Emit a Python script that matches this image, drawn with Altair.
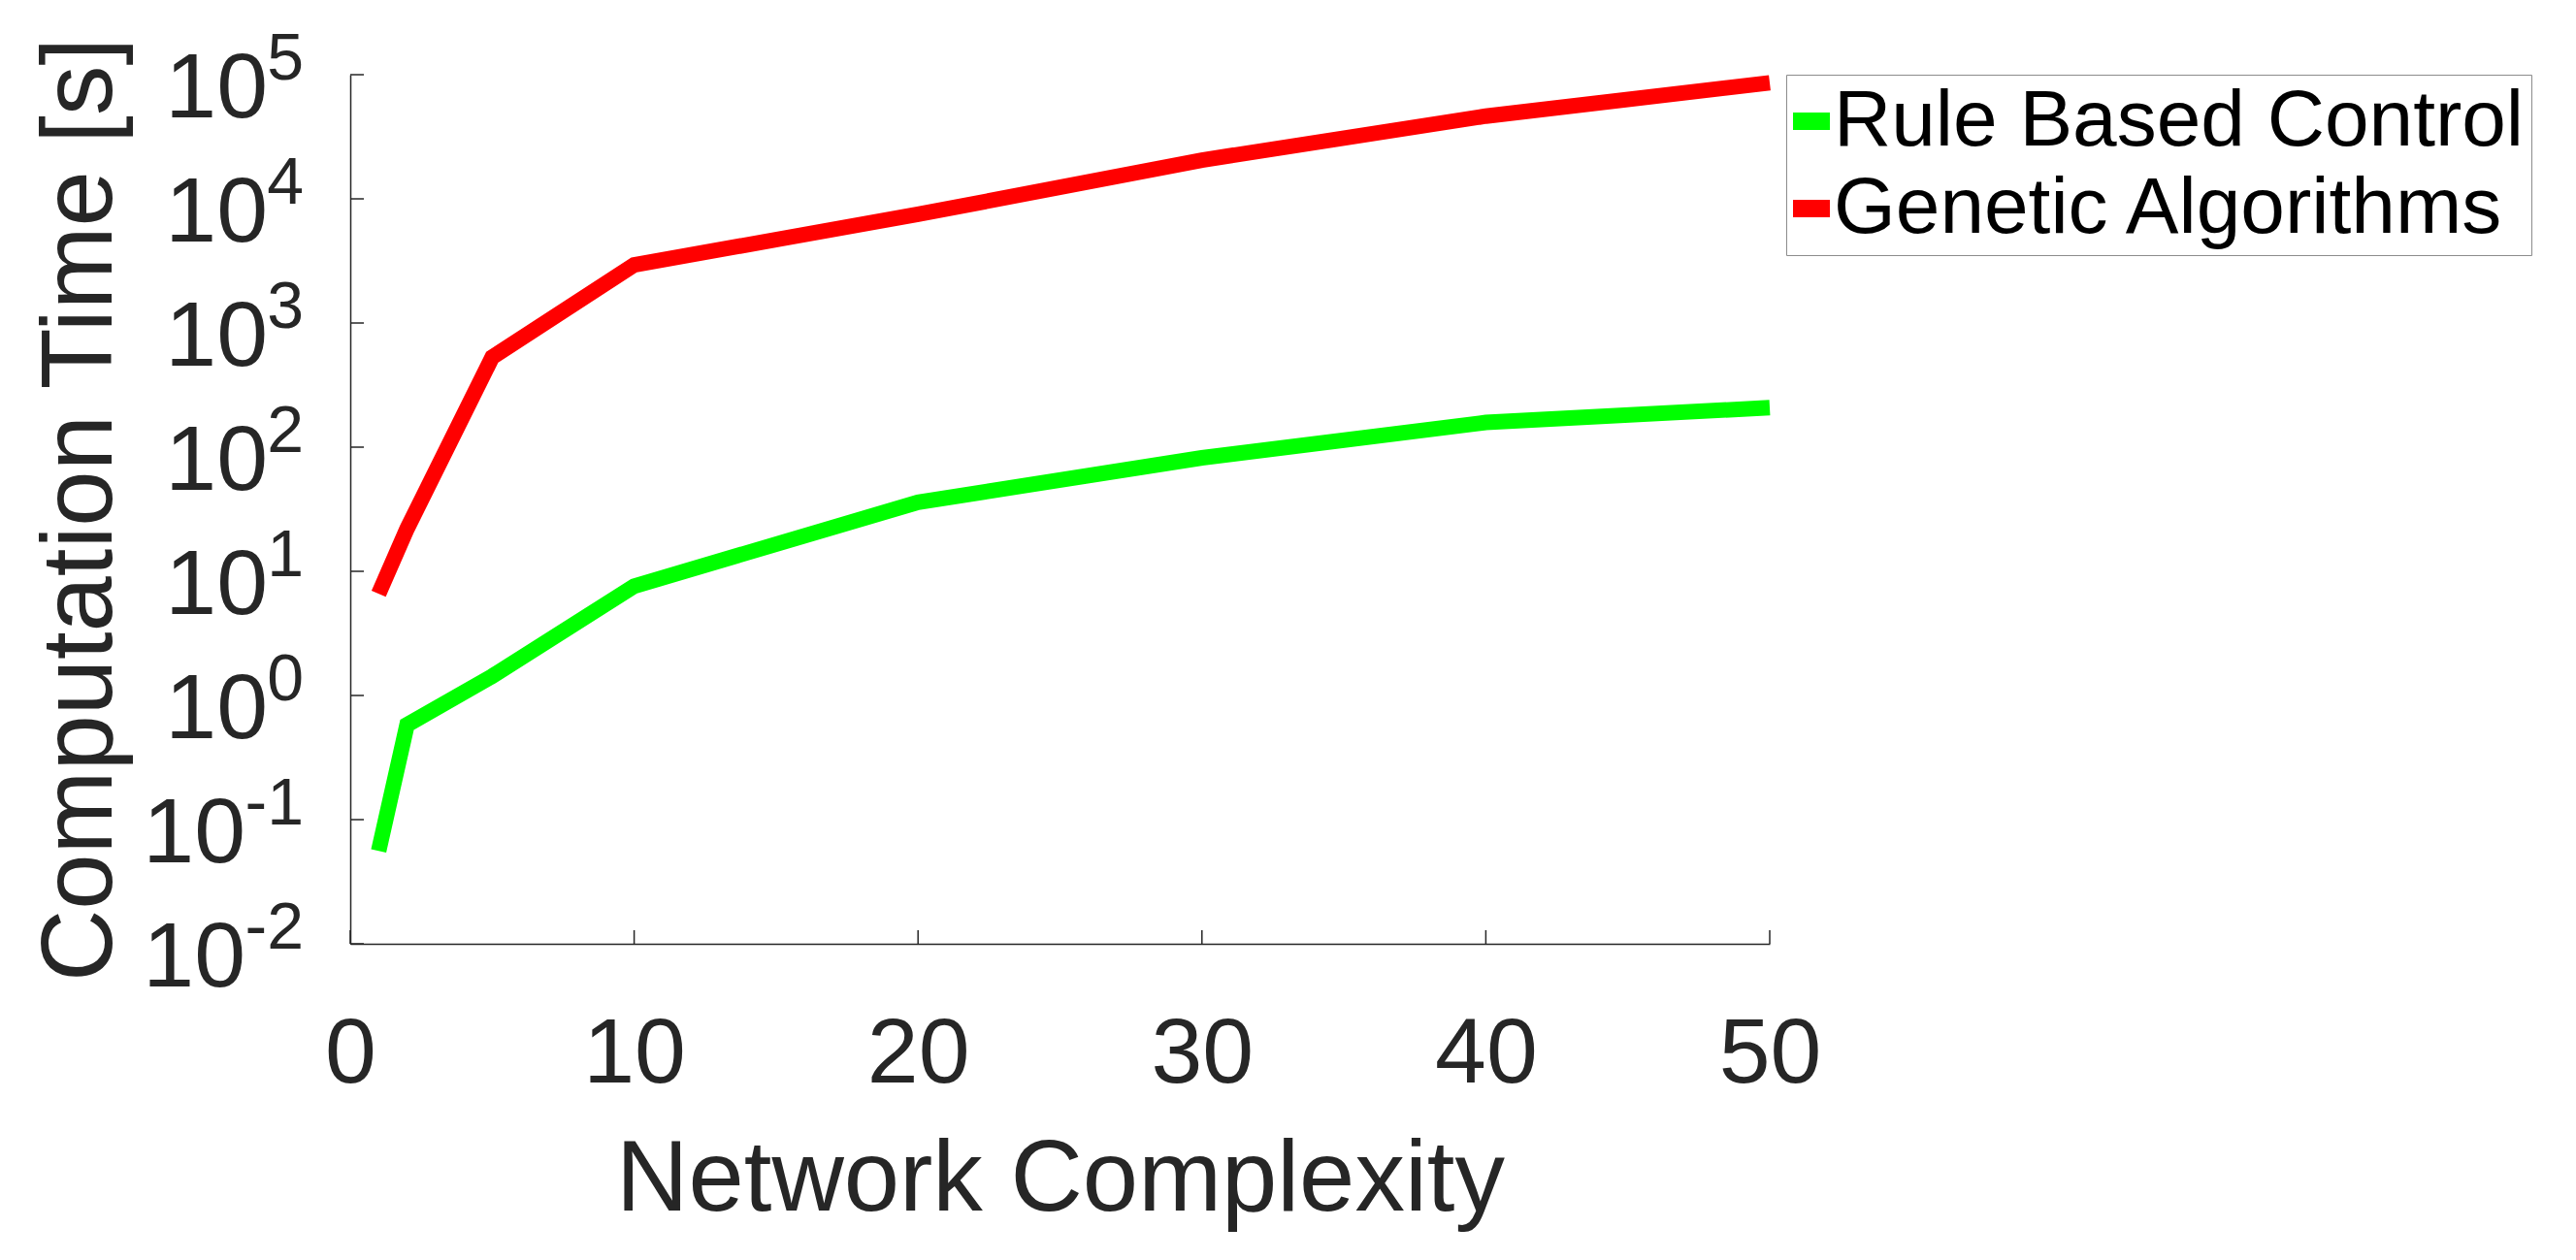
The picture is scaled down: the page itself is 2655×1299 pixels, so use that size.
import altair as alt
import pandas as pd

# ---- data ----
network_complexity = [1, 2, 5, 10, 20, 30, 40, 50]
rule_based_control = [0.056, 0.58, 1.43, 7.6, 36, 82, 158, 208]
genetic_algorithms = [6.6, 22, 530, 2940, 7500, 20500, 46400, 86000]
series_names = ["Rule Based Control", "Genetic Algorithms"]
series_colors = ["#00ff00", "#ff0000"]

x_ticks = [0, 10, 20, 30, 40, 50]
y_tick_exponents = [-2, -1, 0, 1, 2, 3, 4, 5]
y_tick_base = "10"

W, H = 1463, 896
FONT = "Liberation Sans"
AX = "#262626"

rows = []
for name, vals in zip(series_names, [rule_based_control, genetic_algorithms]):
    for xv, yv in zip(network_complexity, vals):
        rows.append({"x": xv, "y": yv, "series": name})
df = pd.DataFrame(rows)

ytick_df = pd.DataFrame({
    "exp": y_tick_exponents,
    "y": [10.0 ** k for k in y_tick_exponents],
    "base": [y_tick_base] * len(y_tick_exponents),
    "sup": [str(k) for k in y_tick_exponents],
})
xtick_df = pd.DataFrame({"x": x_ticks})

xscale = alt.Scale(domain=[0, 50], nice=False, zero=False)
yscale = alt.Scale(type="log", domain=[0.01, 100000], nice=False)

x_axis = alt.Axis(values=x_ticks, grid=False, ticks=False, tickSize=0,
                  labelFontSize=95, labelFont=FONT, labelColor=AX,
                  labelBaseline="alphabetic", labelPadding=142, labelFlush=False,
                  domainColor=AX, domainWidth=1.5,
                  title="Network Complexity", titleFontSize=103,
                  titleFont=FONT, titleColor=AX, titleFontWeight="normal",
                  titleX=W / 2, titleY=274, titleBaseline="alphabetic",
                  titleAlign="center")
y_axis = alt.Axis(grid=False, ticks=False, tickSize=0, labels=False,
                  domainColor=AX, domainWidth=1.5,
                  title="Computation Time [s]", titleFontSize=103,
                  titleFont=FONT, titleColor=AX, titleFontWeight="normal",
                  titleX=-247, titleY=H / 2, titleAngle=270,
                  titleBaseline="alphabetic", titleAlign="center")

X = alt.X("x:Q", scale=xscale, axis=x_axis)
Y = alt.Y("y:Q", scale=yscale, axis=y_axis)

lines = alt.Chart(df).mark_line(strokeWidth=16, strokeCap="butt", strokeJoin="miter").encode(
    x=X, y=Y,
    color=alt.Color("series:N", scale=alt.Scale(domain=series_names, range=series_colors),
                    sort=series_names,
                    legend=alt.Legend(title=None, orient="none", legendX=1480, legendY=0,
                                      strokeColor="#8c8c8c", fillColor="white",
                                      padding=7, symbolType="stroke", symbolSize=1444,
                                      symbolStrokeWidth=18,
                                      symbolOffset={"expr": "-22"},
                                      labelFontSize=82, labelFont=FONT, labelColor="black",
                                      labelOffset={"expr": "-18"},
                                      rowPadding=8, labelLimit=2000,
                                      symbolOpacity=1)),
)

ytick_rules = alt.Chart(ytick_df).mark_rule(color=AX, strokeWidth=1.5).encode(
    y=Y, x=alt.value(0), x2=alt.value(14),
)
xtick_rules = alt.Chart(xtick_df).mark_rule(color=AX, strokeWidth=1.5).encode(
    x=X, y=alt.value(H), y2=alt.value(H - 14),
)

label_base_pos = alt.Chart(ytick_df).transform_filter("datum.exp >= 0").mark_text(
    font=FONT, fontSize=95, color=AX, align="right", baseline="alphabetic", dy=44
).encode(y=Y, x=alt.value(-85), text="base:N")

label_base_neg = alt.Chart(ytick_df).transform_filter("datum.exp < 0").mark_text(
    font=FONT, fontSize=95, color=AX, align="right", baseline="alphabetic", dy=44
).encode(y=Y, x=alt.value(-108), text="base:N")

label_sup = alt.Chart(ytick_df).mark_text(
    font=FONT, fontSize=68, color=AX, align="right", baseline="alphabetic", dy=5
).encode(y=Y, x=alt.value(-48), text="sup:N")

chart = alt.layer(lines, ytick_rules, xtick_rules, label_base_pos, label_base_neg, label_sup).properties(
    width=W, height=H,
    background="white",
    autosize=alt.AutoSizeParams(type="none"),
    padding={"left": 353, "top": 69, "right": 820, "bottom": 310},
).configure_view(stroke=None)

chart.save("out.html", embed_options={"renderer": "svg", "actions": False})
